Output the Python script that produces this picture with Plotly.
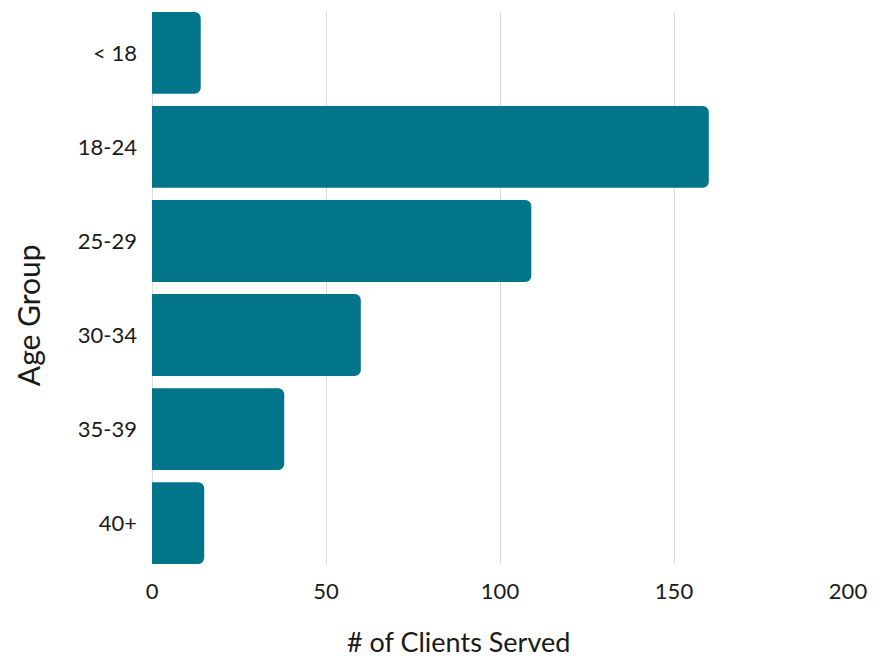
import plotly.graph_objects as go

age_groups = ["< 18", "18-24", "25-29", "30-34", "35-39", "40+"]
clients = [14, 160, 109, 60, 38, 15]
x_ticks = [0, 50, 100, 150, 200]

fig = go.Figure(go.Bar(
    x=clients, y=age_groups, orientation="h",
    marker=dict(color="#02758a", line=dict(width=0)),
))

gap = 0.13
fig.update_layout(
    width=882, height=656,
    margin=dict(l=144, r=42, t=4, b=100),
    paper_bgcolor="white", plot_bgcolor="white",
    font=dict(family="Lato", color="#1a1a1a", size=22),
    bargap=gap, barcornerradius=6, showlegend=False,
    xaxis=dict(
        range=[0, 200], tickvals=x_ticks, showgrid=True, gridcolor="#dcdcdc", gridwidth=1,
        zeroline=True, zerolinecolor="#dcdcdc", zerolinewidth=1,
        showline=False, ticks="", ticklabelstandoff=12,
    ),
    yaxis=dict(
        categoryorder="array", categoryarray=age_groups,
        range=[5.5 - gap / 2, -0.5 + gap / 2],
        showgrid=False, showline=False, ticks="", ticklabelstandoff=14,
    ),
    annotations=[
        dict(text="# of Clients Served", xref="paper", yref="paper", x=0.441, y=-0.1395,
             xanchor="center", yanchor="middle", showarrow=False, font=dict(size=27)),
        dict(text="Age Group", xref="paper", yref="paper", x=-0.178, y=0.451,
             xanchor="center", yanchor="middle", textangle=-90, showarrow=False,
             font=dict(size=30)),
    ],
)

fig.write_html("out.html")
